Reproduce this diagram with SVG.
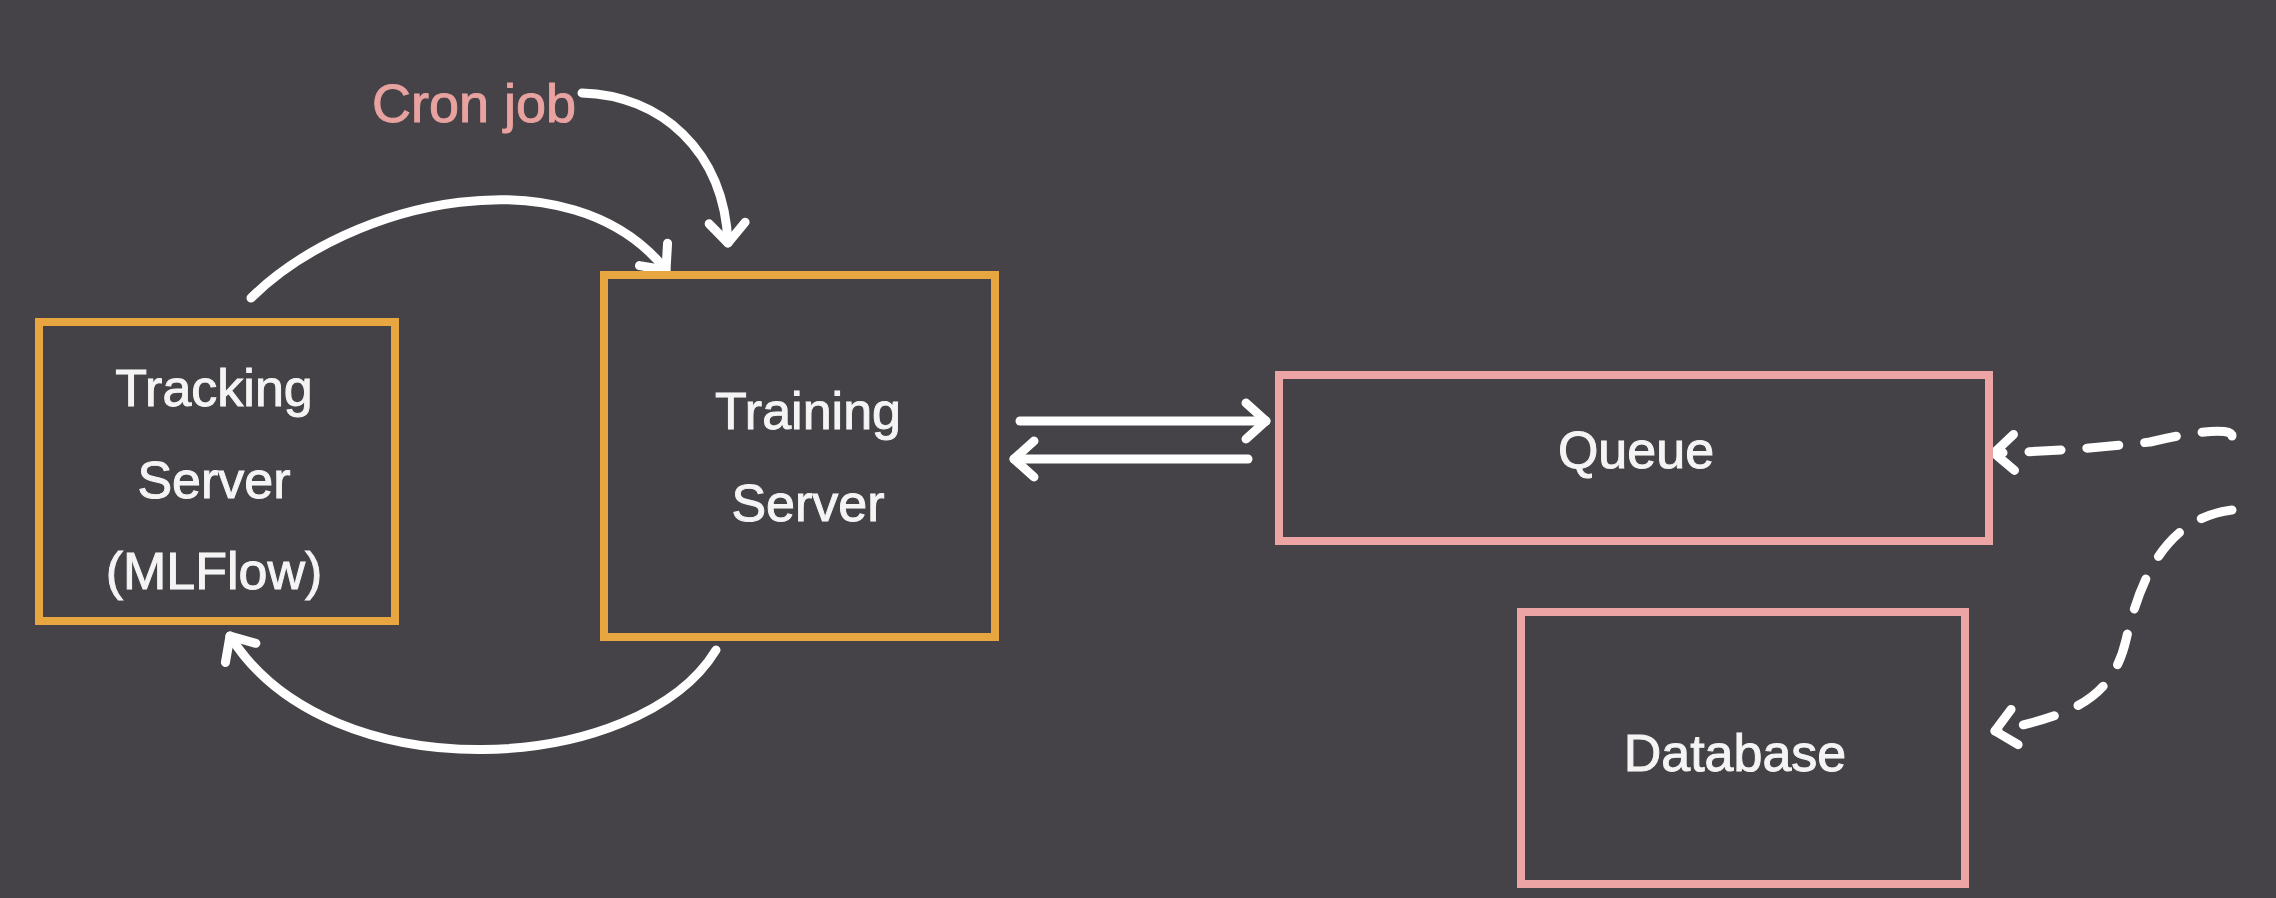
<svg xmlns="http://www.w3.org/2000/svg" width="2276" height="898" viewBox="0 0 2276 898">
  <defs>
    <style>
      .box-o { fill: #444246; stroke: #E8A640; stroke-width: 8; }
      .box-p { fill: #444246; stroke: #ECA4A4; stroke-width: 8; }
      .lbl { font-family: "Liberation Sans", Arial, sans-serif; font-size: 52px; fill: #F4F4F4; stroke: #F4F4F4; stroke-width: 1; text-anchor: middle; }
      .cron { font-family: "Liberation Sans", Arial, sans-serif; font-size: 54px; fill: #E8A2A0; stroke: #E8A2A0; stroke-width: 1; }
      .conn { fill: none; stroke: #FFFFFF; stroke-width: 9; stroke-linecap: round; stroke-linejoin: round; }
      .dash { stroke-dasharray: 32 26; }
    </style>
    <marker id="arr" markerUnits="userSpaceOnUse" viewBox="-30 -24 40 48" refX="0" refY="0" markerWidth="40" markerHeight="48" orient="auto" overflow="visible">
      <path d="M-20,-18 L0,0 L-20,18" fill="none" stroke="#FFFFFF" stroke-width="9" stroke-linecap="round" stroke-linejoin="round"/>
    </marker>
  </defs>
  <rect x="0" y="0" width="2276" height="898" fill="#454347"/>

  <g id="connectors">
    <path class="conn" d="M251,298 C350,200 570,150 666,270" marker-end="url(#arr)"/>
    <path class="conn" d="M582,93 C660,95 724,150 728,243" marker-end="url(#arr)"/>
    <path class="conn" d="M716,650 C640,775 330,795 230,636" marker-end="url(#arr)"/>
    <path class="conn" d="M1020,421 L1266,421" marker-end="url(#arr)"/>
    <path class="conn" d="M1248,459 L1014,459" marker-end="url(#arr)"/>
    <path class="conn dash" d="M2232,436 C2232,428 2200,430 2150,442 C2080,450 2030,452 1994,453" marker-end="url(#arr)"/>
    <path class="conn dash" d="M2232,510 C2170,518 2142,570 2126,640 C2112,700 2070,716 1995,731" marker-end="url(#arr)"/>
  </g>

  <g id="cron-job">
    <text class="cron" x="372" y="122">Cron job</text>
  </g>

  <g id="tracking-server">
    <rect class="box-o" x="39" y="322" width="356" height="299"/>
    <text class="lbl" x="214" y="406">Tracking</text>
    <text class="lbl" x="214" y="498">Server</text>
    <text class="lbl" x="214" y="589">(MLFlow)</text>
  </g>

  <g id="training-server">
    <rect class="box-o" x="604" y="275" width="391" height="362"/>
    <text class="lbl" x="808" y="429">Training</text>
    <text class="lbl" x="808" y="521">Server</text>
  </g>

  <g id="queue">
    <rect class="box-p" x="1279" y="375" width="710" height="166"/>
    <text class="lbl" x="1636" y="468">Queue</text>
  </g>

  <g id="database">
    <rect class="box-p" x="1521" y="612" width="444" height="272"/>
    <text class="lbl" x="1735" y="771">Database</text>
  </g>
</svg>
